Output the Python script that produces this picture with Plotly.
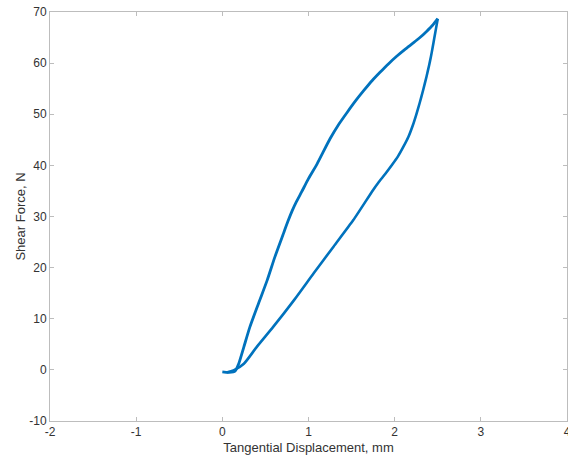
import plotly.graph_objects as go

# Loading branch (upper curve), displacement in mm, force in N
load_x = [0.00, 0.08, 0.15, 0.19, 0.25, 0.32, 0.42, 0.52, 0.61, 0.71, 0.76,
          0.81, 0.86, 0.92, 1.00, 1.10, 1.25, 1.35, 1.45, 1.55, 1.64, 1.74,
          1.83, 1.93, 2.02, 2.12, 2.22, 2.30, 2.37, 2.44, 2.50]
load_f = [-0.4, -0.5, -0.2, 1.2, 4.5, 8.4, 13.0, 17.5, 22.1, 26.7, 29.0,
          31.1, 32.9, 34.8, 37.4, 40.3, 45.2, 48.0, 50.4, 52.7, 54.6, 56.6,
          58.2, 59.9, 61.3, 62.7, 64.0, 65.1, 66.2, 67.4, 68.7]

# Unloading branch (lower curve)
unload_x = [2.50, 2.48, 2.46, 2.44, 2.42, 2.40, 2.37, 2.33, 2.29, 2.25, 2.21,
            2.16, 2.10, 2.04, 1.97, 1.89, 1.81, 1.75, 1.52, 1.29, 1.06, 0.83,
            0.59, 0.40, 0.25, 0.13, 0.05]
unload_f = [68.7, 66.8, 64.9, 63.0, 61.2, 59.6, 57.4, 54.7, 52.2, 49.9, 47.8,
            45.6, 43.6, 41.8, 40.1, 38.3, 36.6, 35.2, 29.3, 24.1, 18.9, 13.6,
            8.4, 4.5, 1.2, -0.1, -0.5]

x_ticks = [-2, -1, 0, 1, 2, 3, 4]
x_tick_text = ["-2", "-1", "0", "1", "2", "3", "4"]
y_ticks = [-10, 0, 10, 20, 30, 40, 50, 60, 70]
y_tick_text = ["-10", "0", "10", "20", "30", "40", "50", "60", "70"]

blue = "#0072BD"
font_family = "Liberation Sans, Arial, sans-serif"
text_color = "#333333"

fig = go.Figure()
fig.add_trace(go.Scatter(x=load_x, y=load_f, mode="lines",
                         line=dict(color=blue, width=2.8, shape="spline", smoothing=0.6),
                         showlegend=False))
fig.add_trace(go.Scatter(x=unload_x, y=unload_f, mode="lines",
                         line=dict(color=blue, width=2.6, shape="spline", smoothing=0.6),
                         showlegend=False))

axis_common = dict(
    showline=True, linecolor="#bdbdbd", linewidth=1, mirror="ticks",
    ticks="inside", ticklen=4, tickcolor="#bdbdbd", tickwidth=1,
    showgrid=False, zeroline=False, ticklabeloverflow="allow", automargin=False,
    tickfont=dict(family=font_family, size=12, color=text_color),
)

fig.update_xaxes(range=[-2, 4], tickvals=x_ticks, ticktext=x_tick_text,
                 title=dict(text="Tangential Displacement, mm",
                            font=dict(family=font_family, size=13, color=text_color),
                            standoff=4),
                 **axis_common)
fig.update_yaxes(range=[-10, 70], tickvals=y_ticks, ticktext=y_tick_text,
                 title=dict(text="Shear Force, N",
                            font=dict(family=font_family, size=13, color=text_color),
                            standoff=0),
                 **axis_common)

fig.update_layout(width=568, height=457,
                  margin=dict(l=50, r=1, t=12, b=36),
                  plot_bgcolor="white", paper_bgcolor="white")

fig.write_html("out.html")
